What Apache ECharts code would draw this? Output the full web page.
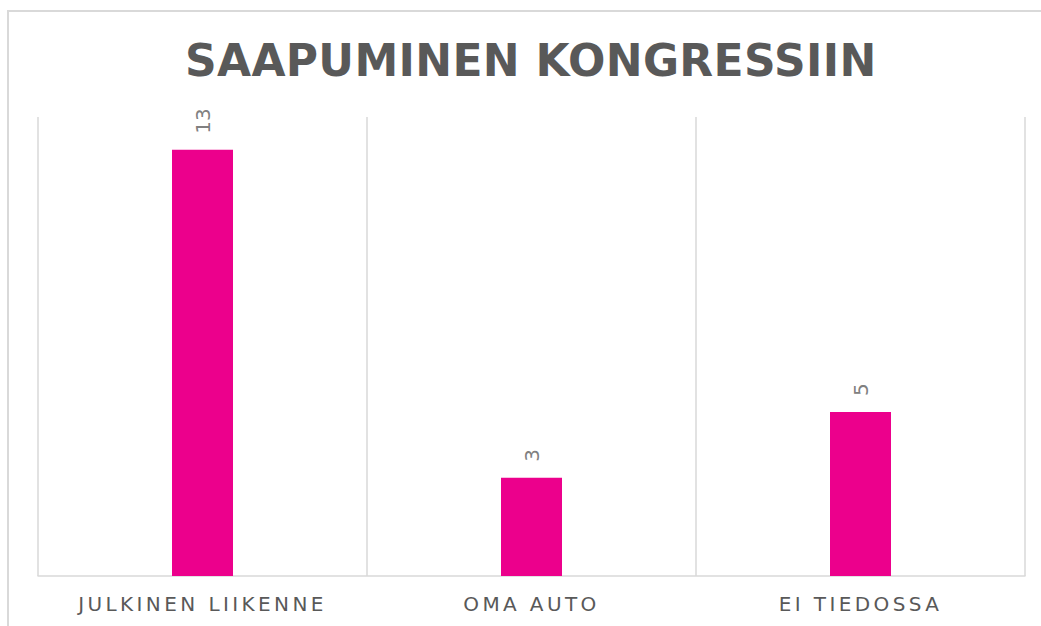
<!DOCTYPE html>
<html>
<head>
<meta charset="utf-8">
<script src="https://cdn.jsdelivr.net/npm/echarts@6/dist/echarts.min.js"></script>
<style>
html,body{margin:0;padding:0;background:#fff;}
#c{width:1041px;height:626px;}
</style>
</head>
<body>
<div id="c"></div>
<script>
var titleText = 'SAAPUMINEN KONGRESSIIN';
var categories = ['JULKINEN LIIKENNE', 'OMA AUTO', 'EI TIEDOSSA'];
var values = [13, 3, 5];

var chart = echarts.init(document.getElementById('c'), null, {renderer: 'svg'});
chart.setOption({
  animation: false,
  backgroundColor: '#ffffff',
  title: {
    text: titleText,
    left: 180,
    top: 33,
    textStyle: {fontFamily: 'DejaVu Sans', fontWeight: 'bold', fontSize: 44, color: '#595959'}
  },
  graphic: [{
    type: 'rect',
    silent: true,
    shape: {x: 8, y: 11, width: 1200, height: 800},
    style: {fill: 'none', stroke: '#d9d9d9', lineWidth: 2}
  }],
  grid: {left: 38, right: 16, top: 117, bottom: 50, containLabel: false},
  xAxis: {
    type: 'category',
    data: categories,
    axisLine: {show: true, lineStyle: {color: '#d9d9d9', width: 1.5}},
    axisTick: {show: false},
    splitLine: {show: true, interval: 0, lineStyle: {color: '#d9d9d9', width: 1.5}},
    axisLabel: {interval: 0, margin: 18, fontFamily: 'DejaVu Sans', fontSize: 20, color: '#595959'}
  },
  yAxis: {
    type: 'value',
    min: 0, max: 14,
    show: false,
    splitLine: {show: false}
  },
  series: [{
    type: 'bar',
    data: values,
    barWidth: 61,
    itemStyle: {color: '#EC008C'},
    label: {
      show: true,
      position: 'top',
      rotate: 90,
      align: 'left',
      verticalAlign: 'middle',
      distance: 16,
      fontFamily: 'DejaVu Sans',
      fontSize: 20,
      color: '#808080'
    }
  }]
});

function spaceLabels() {
  var texts = document.querySelectorAll('#c text');
  texts.forEach(function (t) {
    if (categories.indexOf(t.textContent) >= 0) {
      t.setAttribute('letter-spacing', '3.4px');
      t.style.letterSpacing = '3.4px';
    } else if (t.textContent === titleText) {
      t.setAttribute('letter-spacing', '0.33px');
      t.style.letterSpacing = '0.33px';
    }
  });
}
spaceLabels();
chart.on('finished', spaceLabels);
</script>
</body>
</html>
